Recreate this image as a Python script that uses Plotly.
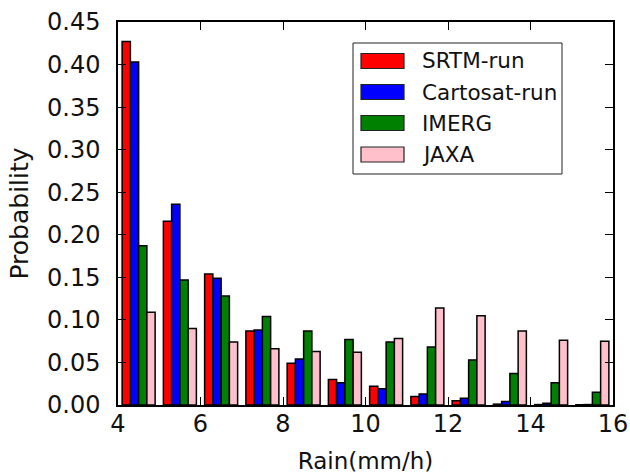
import plotly.graph_objects as go

# Histogram bins of rain rate (mm/h), 1 mm/h wide, from 4 to 16
bin_edges = [4, 5, 6, 7, 8, 9, 10, 11, 12, 13, 14, 15, 16]
bin_centers = [(a + b) / 2 for a, b in zip(bin_edges[:-1], bin_edges[1:])]

series_names = ["SRTM-run", "Cartosat-run", "IMERG", "JAXA"]
series_colors = ["red", "blue", "green", "pink"]

srtm_run = [0.427, 0.216, 0.154, 0.087, 0.049, 0.030, 0.022, 0.010, 0.005, 0.001, 0.0005, 0.0003]
cartosat_run = [0.403, 0.236, 0.149, 0.088, 0.054, 0.026, 0.019, 0.013, 0.008, 0.004, 0.002, 0.0005]
imerg = [0.187, 0.147, 0.128, 0.104, 0.087, 0.077, 0.074, 0.068, 0.053, 0.037, 0.026, 0.015]
jaxa = [0.109, 0.090, 0.074, 0.066, 0.063, 0.062, 0.078, 0.114, 0.105, 0.087, 0.076, 0.075]

series_values = [srtm_run, cartosat_run, imerg, jaxa]

y_ticks = [0.00, 0.05, 0.10, 0.15, 0.20, 0.25, 0.30, 0.35, 0.40, 0.45]
x_ticks = [4, 6, 8, 10, 12, 14, 16]

FONT = "DejaVu Sans"
TEXT_COLOR = "#111111"
TICK_SIZE = 24
XTITLE_SIZE = 23
YTITLE_SIZE = 25
LEGEND_SIZE = 21.5

fig = go.Figure()
for name, color, values in zip(series_names, series_colors, series_values):
    fig.add_trace(go.Bar(
        x=bin_centers,
        y=values,
        name=name,
        marker=dict(color=color, line=dict(color="black", width=1.5)),
        showlegend=False,
    ))

# Legend box drawn in paper coordinates, matplotlib-style wide patches
# (plot area spans 118..613 px horizontally, 22..405 px vertically)
def px_x(p):
    return (p - 118) / 495.0

def px_y(p):
    return (405 - p) / 383.0

legend_shapes = [dict(type="rect", xref="paper", yref="paper",
                      x0=px_x(353), x1=px_x(562), y0=px_y(174), y1=px_y(43),
                      line=dict(color="#222222", width=1), fillcolor="white",
                      layer="above")]
legend_annotations = []
row_centers = [61, 92, 123, 154.5]
for name, color, rc in zip(series_names, series_colors, row_centers):
    legend_shapes.append(dict(type="rect", xref="paper", yref="paper",
                              x0=px_x(361), x1=px_x(404),
                              y0=px_y(rc + 7.5), y1=px_y(rc - 7.5),
                              line=dict(color="#222222", width=1.2), fillcolor=color,
                              layer="above"))
    legend_annotations.append(dict(xref="paper", yref="paper", x=px_x(420), y=px_y(rc),
                                   text=name, showarrow=False, xanchor="left",
                                   yanchor="middle",
                                   font=dict(family=FONT, size=LEGEND_SIZE, color=TEXT_COLOR)))

fig.update_layout(
    width=630,
    height=474,
    margin=dict(l=118, r=17, t=22, b=69),
    paper_bgcolor="white",
    plot_bgcolor="white",
    barmode="group",
    bargap=0.2,
    bargroupgap=0,
    font=dict(family=FONT, size=XTITLE_SIZE, color=TEXT_COLOR),
    shapes=legend_shapes,
    annotations=legend_annotations,
)

fig.update_xaxes(
    range=[4, 16],
    tickvals=x_ticks,
    ticktext=[str(v) for v in x_ticks],
    ticks="inside",
    ticklen=8,
    tickwidth=1,
    tickcolor="black",
    showline=True,
    linecolor="black",
    linewidth=1.5,
    mirror="ticks",
    showgrid=False,
    zeroline=False,
    automargin=False,
    ticklabeloverflow="allow",
    ticklabelstandoff=-4,
    tickfont=dict(family=FONT, size=TICK_SIZE, color=TEXT_COLOR),
    title=dict(text="Rain(mm/h)", standoff=19,
               font=dict(family=FONT, size=XTITLE_SIZE, color=TEXT_COLOR)),
)

fig.update_yaxes(
    range=[0, 0.45],
    tickvals=y_ticks,
    ticktext=[f"{v:.2f}" for v in y_ticks],
    ticks="inside",
    ticklen=8,
    tickwidth=1,
    tickcolor="black",
    showline=True,
    linecolor="black",
    linewidth=1.5,
    mirror="ticks",
    showgrid=False,
    zeroline=False,
    automargin=False,
    ticklabelstandoff=11,
    tickfont=dict(family=FONT, size=TICK_SIZE, color=TEXT_COLOR),
    title=dict(text="Probability", standoff=11,
               font=dict(family=FONT, size=YTITLE_SIZE, color=TEXT_COLOR)),
)

fig.write_html("out.html")
